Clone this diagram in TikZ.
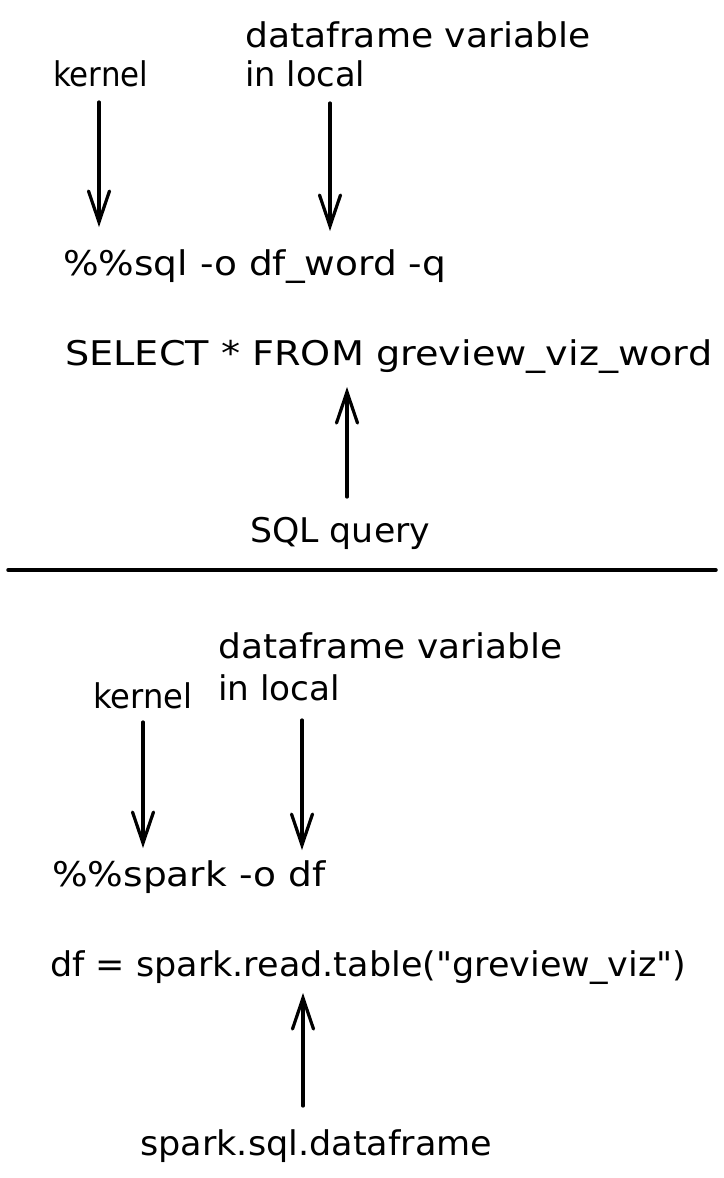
\documentclass[tikz,border=0pt]{standalone}
\usepackage{fontspec}
\setmainfont{DejaVu Sans}[Ligatures=TeXOff]
\usetikzlibrary{arrows.meta}
\newcommand{\fitw}[2]{\resizebox{#1pt}{\height}{#2}}
\begin{document}
\begin{tikzpicture}[x=1pt,y=-1pt,
  lbl/.style={anchor=base west,inner sep=0pt,font=\fontsize{34}{40}\selectfont},
  arr/.style={line width=3.2pt,line cap=round,-{Straight Barb[length=31pt,width=21pt,line width=3.2pt,line cap=round]}},
  divider/.style={line width=3.5pt,line cap=round}]
\useasboundingbox (0,0) rectangle (723,1178);
% top half
\node[lbl] (kernel1) at (53,86) {\fitw{95}{kernel}};
\node[lbl] (dfv1) at (245,47) {\fitw{345}{dataframe variable}};
\node[lbl] (inlocal1) at (245,86) {\fitw{120}{in local}};
\node[lbl] (sql1) at (63,275) {\fitw{383}{\%\%sql -o df\_word -q}};
\node[lbl] (select) at (65,365) {\fitw{647}{SELECT * FROM greview\_viz\_word}};
\node[lbl] (sqlq) at (250,542) {\fitw{180}{SQL query}};
\coordinate (a1s) at (99,102);  \coordinate (a1e) at (99,227);
\coordinate (a2s) at (330,103); \coordinate (a2e) at (330,231);
\coordinate (a3s) at (347,497); \coordinate (a3e) at (347,387);
\draw[arr] (a1s) -- (a1e);
\draw[arr] (a2s) -- (a2e);
\draw[arr] (a3s) -- (a3e);
% divider
\coordinate (dl) at (8,570); \coordinate (dr) at (716,570);
\draw[divider] (dl) -- (dr);
% bottom half
\node[lbl] (dfv2) at (218,658) {\fitw{344}{dataframe variable}};
\node[lbl] (inlocal2) at (218,700) {\fitw{122}{in local}};
\node[lbl] (kernel2) at (93,708) {\fitw{99}{kernel}};
\node[lbl] (spark1) at (52,886) {\fitw{273}{\%\%spark -o df}};
\node[lbl] (dfeq) at (50,976) {\fitw{636}{df = spark.read.table("greview\_viz")}};
\node[lbl] (sparksql) at (140,1155) {\fitw{352}{spark.sql.dataframe}};
\coordinate (a4s) at (143,722); \coordinate (a4e) at (143,848);
\coordinate (a5s) at (302,720); \coordinate (a5e) at (302,850);
\coordinate (a6s) at (303,1106); \coordinate (a6e) at (303,993);
\draw[arr] (a4s) -- (a4e);
\draw[arr] (a5s) -- (a5e);
\draw[arr] (a6s) -- (a6e);
\end{tikzpicture}
\end{document}
